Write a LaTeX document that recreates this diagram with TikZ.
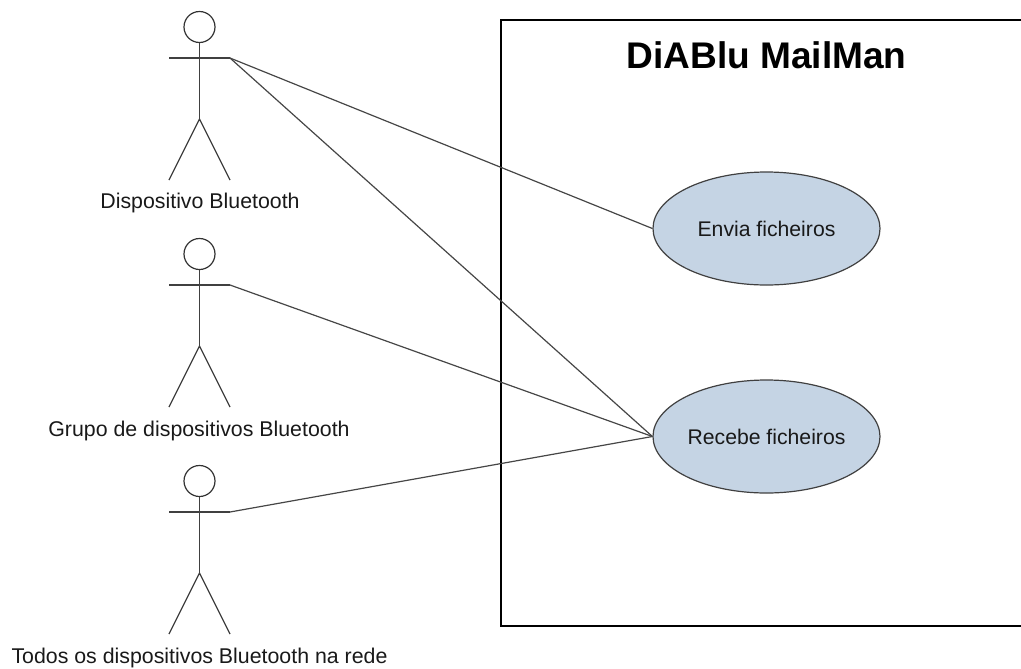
\documentclass[tikz,border=0pt]{standalone}
\usepackage{fontspec}
\setmainfont{Liberation Sans}
\usetikzlibrary{shapes.geometric}
\definecolor{ucfill}{RGB}{197,212,228}
\definecolor{lnk}{RGB}{70,70,70}
\tikzset{
  x=0.75pt,y=-0.75pt,
  stick/.style={draw=black!75,line width=0.9pt},
  head/.style={circle,draw=black!80,line width=0.9pt,minimum size=23.25pt,inner sep=0pt},
  usecase/.style={ellipse,draw=black!75,line width=0.9pt,fill=ucfill,minimum width=170.25pt,minimum height=84.75pt,inner sep=0pt,font=\fontsize{15.9}{18}\selectfont,text=black!90},
  actorlabel/.style={font=\fontsize{16}{18}\selectfont,text=black!90,inner sep=0pt},
  link/.style={draw=lnk,line width=0.9pt},
  sysbox/.style={draw=black,line width=1.5pt},
  title/.style={font=\bfseries\fontsize{27.8}{32}\selectfont,inner sep=0pt}
}
\newcommand{\actorfig}[3]{%
  \node[head] (#1head) at (#2,#3) {};
  \coordinate (#1hand) at (#2+30.5,#3+31);
  \coordinate (#1lhand) at (#2-30.5,#3+31);
  \coordinate (#1hip) at (#2,#3+92);
  \coordinate (#1lfoot) at (#2-30.5,#3+153);
  \coordinate (#1rfoot) at (#2+30.5,#3+153);
  \draw[stick] (#1lhand) -- (#1hand);
  \draw[stick] (#1head.south) -- (#1hip);
  \draw[stick] (#1lfoot) -- (#1hip) -- (#1rfoot);
}
\begin{document}
\begin{tikzpicture}
\useasboundingbox (0,0) rectangle (1021,668);
\draw[sysbox] (1021,19.5) -- (501,19.5) -- (501,626) -- (1021,626);
\node[title] (systitle) at (766.5,55) {DiABlu MailMan};
\node[usecase] (envia) at (766.5,228.5) {Envia ficheiros};
\node[usecase] (recebe) at (766.5,436.5) {Recebe ficheiros};
\actorfig{a}{199.5}{27}
\actorfig{b}{199.5}{254}
\actorfig{c}{199.5}{481}
\node[actorlabel] (alabel) at (200,203) {Dispositivo Bluetooth};
\node[actorlabel] (blabel) at (199,431) {Grupo de dispositivos Bluetooth};
\node[actorlabel] (clabel) at (199.5,657.5) {Todos os dispositivos Bluetooth na rede};
\draw[link] (ahand) -- (envia.west);
\draw[link] (ahand) -- (recebe.west);
\draw[link] (bhand) -- (recebe.west);
\draw[link] (chand) -- (recebe.west);
\end{tikzpicture}
\end{document}
